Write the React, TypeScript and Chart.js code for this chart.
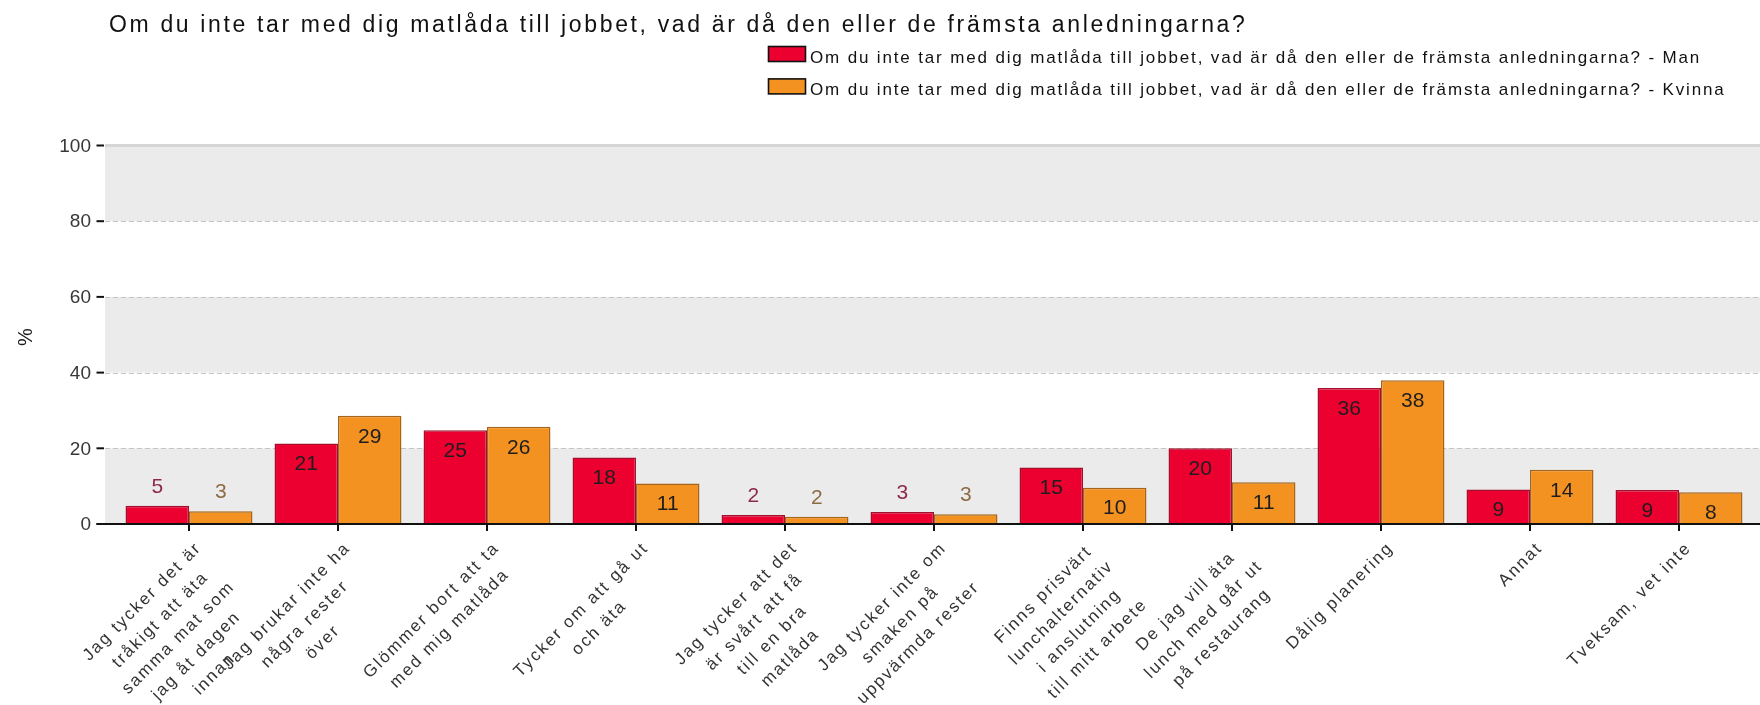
import React, { useEffect, useRef } from "react";
import { Chart, registerables } from "chart.js";

Chart.register(...registerables);

const TITLE =
  "Om du inte tar med dig matlåda till jobbet, vad är då den eller de främsta anledningarna?";
const SERIES_NAMES = [TITLE + " - Man", TITLE + " - Kvinna"];
const CATEGORIES = [
  "Jag tycker det är\ntråkigt att äta\nsamma mat som\njag åt dagen\ninnan",
  "Jag brukar inte ha\nnågra rester\növer",
  "Glömmer bort att ta\nmed mig matlåda",
  "Tycker om att gå ut\noch äta",
  "Jag tycker att det\när svårt att få\ntill en bra\nmatlåda",
  "Jag tycker inte om\nsmaken på\nuppvärmda rester",
  "Finns prisvärt\nlunchalternativ\ni anslutning\ntill mitt arbete",
  "De jag vill äta\nlunch med går ut\npå restaurang",
  "Dålig planering",
  "Annat",
  "Tveksam, vet inte",
];
const MAN = [4.8, 21.3, 24.8, 17.6, 2.4, 3.2, 14.9, 20.0, 35.9, 9.1, 9.0];
const KVINNA = [3.4, 28.6, 25.7, 10.7, 1.9, 2.6, 9.6, 11.0, 38.0, 14.3, 8.4];
const Y_TICKS = [0, 20, 40, 60, 80, 100];
const Y_TITLE = "%";

const FILLS = ["#EC002F", "#F39221"];
const BORDERS = ["#A3102F", "#A5661C"];
const OUTSIDE_LABEL_COLORS = ["#8E2A48", "#8C6B45"];
const FONT = '"Liberation Sans", Arial, Helvetica, sans-serif';

function setSpacing(ctx: any, px: number) {
  if ("letterSpacing" in ctx) ctx.letterSpacing = px + "px";
}

const decorPlugin = {
  id: "decor",
  beforeDatasetsDraw(chart: any) {
    const { ctx, scales } = chart;
    const x = scales.x;
    const y = scales.y;
    const step = x.getPixelForValue(1) - x.getPixelForValue(0);
    const left = x.getPixelForValue(0) - 0.564 * step;
    const right = x.getPixelForValue(CATEGORIES.length - 1) + 0.564 * step;
    ctx.save();
    ctx.fillStyle = "#EBEBEB";
    for (let i = 0; i < Y_TICKS.length - 1; i += 2) {
      const a = y.getPixelForValue(Y_TICKS[i]);
      const b = y.getPixelForValue(Y_TICKS[i + 1]);
      ctx.fillRect(left, b, right - left, a - b);
    }
    ctx.strokeStyle = "#C4C4C4";
    ctx.lineWidth = 1;
    ctx.setLineDash([5, 3]);
    for (let i = 1; i < Y_TICKS.length - 1; i++) {
      const py = Math.round(y.getPixelForValue(Y_TICKS[i])) + 0.5;
      ctx.beginPath();
      ctx.moveTo(left, py);
      ctx.lineTo(right, py);
      ctx.stroke();
    }
    ctx.setLineDash([]);
    const top = y.getPixelForValue(Y_TICKS[Y_TICKS.length - 1]);
    ctx.strokeStyle = "#D6D6D6";
    ctx.lineWidth = 3;
    ctx.beginPath();
    ctx.moveTo(left, top);
    ctx.lineTo(right, top);
    ctx.stroke();
    ctx.restore();
  },
  afterDatasetsDraw(chart: any) {
    const { ctx, scales } = chart;
    const x = scales.x;
    const y = scales.y;
    const W = chart.width;
    const y0 = y.getPixelForValue(0);
    ctx.save();

    // value labels
    const seriesData = [MAN, KVINNA];
    ctx.font = `21px ${FONT}`;
    ctx.textAlign = "center";
    ctx.textBaseline = "middle";
    seriesData.forEach((data, d) => {
      const meta = chart.getDatasetMeta(d);
      meta.data.forEach((el: any, j: number) => {
        const v = data[j];
        const txt = String(Math.round(v));
        if (v < 6) {
          ctx.fillStyle = OUTSIDE_LABEL_COLORS[d];
          ctx.fillText(txt, el.x, el.y - 19);
        } else {
          ctx.fillStyle = "#1E1E1E";
          ctx.fillText(txt, el.x, el.y + 21);
        }
      });
    });

    // x axis line
    ctx.strokeStyle = "#111";
    ctx.lineWidth = 2;
    ctx.beginPath();
    ctx.moveTo(96.5, y0);
    ctx.lineTo(W, y0);
    ctx.stroke();

    for (let i = 0; i < CATEGORIES.length; i++) {
      const px = x.getPixelForValue(i);
      ctx.beginPath();
      ctx.moveTo(px, y0);
      ctx.lineTo(px, y0 + 7);
      ctx.stroke();
    }

    // y ticks + labels
    ctx.font = `19px ${FONT}`;
    ctx.textAlign = "right";
    ctx.textBaseline = "middle";
    ctx.fillStyle = "#383838";
    Y_TICKS.forEach((t) => {
      const py = y.getPixelForValue(t);
      ctx.beginPath();
      ctx.moveTo(96.5, py);
      ctx.lineTo(104, py);
      ctx.stroke();
      ctx.fillText(String(t), 91, py + 1);
    });

    // x labels
    ctx.font = `17px ${FONT}`;
    setSpacing(ctx, 2.0);
    ctx.fillStyle = "#333333";
    ctx.textAlign = "center";
    ctx.textBaseline = "middle";
    CATEGORIES.forEach((lab, i) => {
      const lines = lab.split("\n");
      const px = x.getPixelForValue(i);
      const maxW = Math.max(...lines.map((l) => ctx.measureText(l).width));
      ctx.save();
      ctx.translate(px, y0 + 3);
      ctx.rotate(-Math.PI / 4);
      lines.forEach((l, k) => {
        ctx.fillText(l, -maxW / 2 - 6, 20 + k * 25.5);
      });
      ctx.restore();
    });
    setSpacing(ctx, 0);

    // y title
    ctx.save();
    ctx.translate(26, 337);
    ctx.rotate(-Math.PI / 2);
    ctx.font = `20px ${FONT}`;
    ctx.fillStyle = "#1A1A1A";
    ctx.textAlign = "center";
    ctx.textBaseline = "middle";
    ctx.fillText(Y_TITLE, 0, 0);
    ctx.restore();

    // title
    ctx.font = `23px ${FONT}`;
    setSpacing(ctx, 2.65);
    ctx.fillStyle = "#111111";
    ctx.textAlign = "left";
    ctx.textBaseline = "alphabetic";
    ctx.fillText(TITLE, 109, 31.5);

    // legend
    ctx.font = `17px ${FONT}`;
    setSpacing(ctx, 1.85);
    chart.data.datasets.forEach((ds: any, i: number) => {
      const by = 46.5 + i * 32.4;
      ctx.fillStyle = ds.backgroundColor;
      ctx.fillRect(768.5, by, 37, 15);
      ctx.strokeStyle = "#111";
      ctx.lineWidth = 1.6;
      ctx.strokeRect(768.5, by, 37, 15);
      ctx.fillStyle = "#111111";
      ctx.fillText(ds.label, 810, 63 + i * 32.4);
    });
    setSpacing(ctx, 0);

    ctx.restore();
  },
};

export default function App() {
  const ref = useRef<HTMLCanvasElement | null>(null);
  useEffect(() => {
    if (!ref.current) return;
    const chart = new Chart(ref.current, {
      type: "bar",
      data: {
        labels: CATEGORIES,
        datasets: [MAN, KVINNA].map((d, i) => ({
          label: SERIES_NAMES[i],
          data: d,
          backgroundColor: FILLS[i],
          borderColor: BORDERS[i],
          borderWidth: 1.5,
          borderSkipped: "start",
          categoryPercentage: 0.852,
          barPercentage: 1,
        })),
      },
      options: {
        responsive: false,
        animation: false,
        devicePixelRatio: 1,
        layout: { padding: { left: 114.5, right: 6.5, top: 145.5, bottom: 181 } },
        plugins: {
          legend: { display: false },
          title: { display: false },
          tooltip: { enabled: false },
        },
        scales: {
          x: { display: false, offset: true },
          y: { display: false, min: 0, max: 100 },
        },
      },
      plugins: [decorPlugin],
    } as any);
    return () => chart.destroy();
  }, []);
  return (
    <div style={{ position: "absolute", left: 0, top: 0, width: 1760, height: 705, background: "#fff" }}>
      <canvas ref={ref} width={1760} height={705} style={{ width: 1760, height: 705, display: "block" }} />
    </div>
  );
}
